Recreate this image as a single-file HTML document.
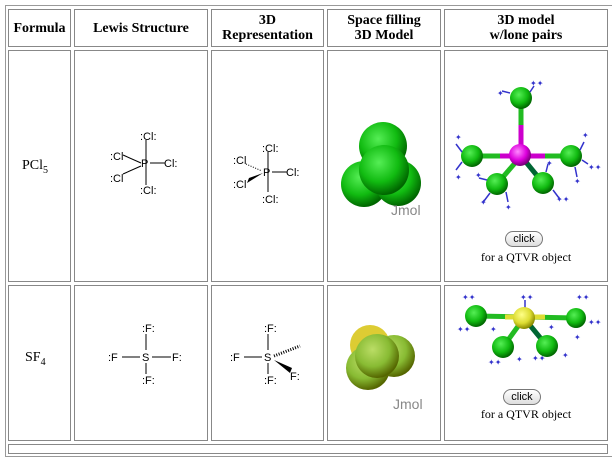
<!DOCTYPE html>
<html><head><style>
body{margin:0;width:612px;height:447px;background:#fff;position:relative;overflow:hidden;font-family:"Liberation Serif",serif;}
.c{position:absolute;border:1px solid #888;box-sizing:border-box;}
.o{position:absolute;left:5px;top:5px;width:606px;height:450px;border:1px solid #999;}
.h{font-weight:bold;font-size:14px;text-align:center;display:flex;align-items:center;justify-content:center;line-height:15px;}
.t{position:absolute;font-size:14px;}
svg{position:absolute;left:0;top:0;}
</style></head><body>
<div class="o"></div>
<div class="c h" style="left:8px;top:9px;width:63px;height:38px">Formula</div>
<div class="c h" style="left:74px;top:9px;width:134px;height:38px">Lewis Structure</div>
<div class="c h" style="left:211px;top:9px;width:113px;height:38px">3D<br>Representation</div>
<div class="c h" style="left:327px;top:9px;width:114px;height:38px">Space filling<br>3D Model</div>
<div class="c h" style="left:444px;top:9px;width:164px;height:38px">3D model<br>w/lone pairs</div>

<div class="c" style="left:8px;top:50px;width:63px;height:232px"></div>
<div class="c" style="left:74px;top:50px;width:134px;height:232px"></div>
<div class="c" style="left:211px;top:50px;width:113px;height:232px"></div>
<div class="c" style="left:327px;top:50px;width:114px;height:232px"></div>
<div class="c" style="left:444px;top:50px;width:164px;height:232px"></div>

<div class="c" style="left:8px;top:285px;width:63px;height:156px"></div>
<div class="c" style="left:74px;top:285px;width:134px;height:156px"></div>
<div class="c" style="left:211px;top:285px;width:113px;height:156px"></div>
<div class="c" style="left:327px;top:285px;width:114px;height:156px"></div>
<div class="c" style="left:444px;top:285px;width:164px;height:156px"></div>
<div class="c" style="left:8px;top:444px;width:600px;height:10px"></div>

<div class="t" style="left:22px;top:158px">PCl<sub style="font-size:10px">5</sub></div>
<div class="t" style="left:25px;top:350px">SF<sub style="font-size:10px">4</sub></div>

<svg width="612" height="447" font-family="Liberation Sans, sans-serif" font-size="11">
<defs>
<radialGradient id="g" cx="40%" cy="35%" r="65%"><stop offset="0" stop-color="#5e5"/><stop offset=".6" stop-color="#1b1"/><stop offset="1" stop-color="#060"/></radialGradient>
<radialGradient id="lg" cx="40%" cy="35%" r="65%"><stop offset="0" stop-color="#bd6"/><stop offset=".6" stop-color="#8b3"/><stop offset="1" stop-color="#560"/></radialGradient>
<radialGradient id="m" cx="40%" cy="35%" r="65%"><stop offset="0" stop-color="#f8f"/><stop offset=".6" stop-color="#d0d"/><stop offset="1" stop-color="#707"/></radialGradient>
<radialGradient id="y" cx="40%" cy="35%" r="65%"><stop offset="0" stop-color="#ff8"/><stop offset=".6" stop-color="#dd3"/><stop offset="1" stop-color="#880"/></radialGradient>
</defs>
<g stroke="#000" stroke-width="1">
<line x1="146" y1="140" x2="146" y2="185"/><line x1="150" y1="163" x2="165" y2="163"/>
<line x1="123" y1="155" x2="141" y2="163"/><line x1="123" y1="174" x2="141" y2="166"/>
<line x1="268" y1="152" x2="268" y2="192"/><line x1="272" y1="172" x2="287" y2="172"/>
<line x1="246" y1="164" x2="262" y2="171" stroke-dasharray="1,1.5"/>
</g>
<polygon points="247,183 249,178 263,173" fill="#000"/>
<g fill="#000">
<text x="140" y="140">:Cl:</text><text x="140" y="194">:Cl:</text><text x="164" y="167">Cl:</text>
<text x="110" y="160">:Cl</text><text x="110" y="182">:Cl</text><text x="141" y="167">P</text>
<text x="262" y="152">:Cl:</text><text x="262" y="203">:Cl:</text><text x="286" y="176">Cl:</text>
<text x="233" y="164">:Cl</text><text x="233" y="188">:Cl</text><text x="263" y="176">P</text>
<text x="142" y="332">:F:</text><text x="142" y="384">:F:</text><text x="108" y="361">:F</text><text x="172" y="361">F:</text><text x="142" y="361">S</text>
<text x="264" y="332">:F:</text><text x="264" y="384">:F:</text><text x="230" y="361">:F</text><text x="264" y="361">S</text><text x="290" y="380">F:</text>
</g>
<g stroke="#000"><line x1="146" y1="334" x2="146" y2="350"/><line x1="146" y1="363" x2="146" y2="374"/><line x1="122" y1="357" x2="140" y2="357"/><line x1="152" y1="357" x2="171" y2="357"/>
<line x1="268" y1="334" x2="268" y2="350"/><line x1="268" y1="363" x2="268" y2="374"/><line x1="244" y1="357" x2="262" y2="357"/>
<line x1="274" y1="356" x2="300" y2="346" stroke-dasharray="1,1.5" stroke-width="3"/></g>
<polygon points="274,360 292,368 290,373" fill="#000"/>
<circle cx="383" cy="146" r="24" fill="url(#g)"/><circle cx="364" cy="184" r="23" fill="url(#g)"/><circle cx="398" cy="183" r="23" fill="url(#g)"/><circle cx="384" cy="170" r="25" fill="url(#g)"/>
<text x="391" y="215" fill="#888" font-size="14">Jmol</text>
<circle cx="370" cy="345" r="20" fill="#dc3"/><circle cx="368" cy="368" r="22" fill="url(#lg)"/><circle cx="394" cy="356" r="21" fill="url(#lg)"/><circle cx="377" cy="356" r="22" fill="url(#lg)"/>
<text x="393" y="409" fill="#888" font-size="14">Jmol</text>
<g stroke-width="5"><line x1="521" y1="98" x2="521" y2="155" stroke="#2b2"/><line x1="521" y1="125" x2="521" y2="155" stroke="#c0c"/>
<line x1="472" y1="156" x2="571" y2="156" stroke="#2b2"/><line x1="500" y1="156" x2="545" y2="156" stroke="#c0c"/>
<line x1="497" y1="184" x2="521" y2="156" stroke="#2b2"/><line x1="543" y1="183" x2="521" y2="156" stroke="#063"/></g>
<circle cx="521" cy="98" r="11" fill="url(#g)"/><circle cx="472" cy="156" r="11" fill="url(#g)"/><circle cx="571" cy="156" r="11" fill="url(#g)"/>
<circle cx="520" cy="155" r="11" fill="url(#m)"/><circle cx="497" cy="184" r="11" fill="url(#g)"/><circle cx="543" cy="183" r="11" fill="url(#g)"/>
<g stroke="#33c" stroke-width="1.5" fill="none"><path d="M510 93 l-8 -2 M530 92 l4 -6 M462 152 l-6 -8 M462 162 l-6 8 M580 150 l4 -8 M582 160 l6 4 M575 167 l2 10 M490 193 l-6 8 M506 192 l2 10 M487 180 l-8 -2 M553 190 l6 8 M546 172 l2 -8"/></g>
<g fill="#33c" font-size="8"><text x="497" y="96">✦</text><text x="530" y="86">✦✦</text><text x="455" y="140">✦</text><text x="455" y="180">✦</text><text x="582" y="138">✦</text><text x="588" y="170">✦✦</text><text x="574" y="184">✦</text><text x="480" y="205">✦</text><text x="505" y="210">✦</text><text x="475" y="178">✦</text><text x="556" y="202">✦✦</text><text x="546" y="166">✦</text></g>
<g stroke-width="5"><line x1="476" y1="316" x2="576" y2="318" stroke="#2b2"/><line x1="505" y1="317" x2="545" y2="317" stroke="#dd3"/>
<line x1="503" y1="347" x2="524" y2="318" stroke="#2b2"/><line x1="547" y1="346" x2="524" y2="318" stroke="#063"/><line x1="525" y1="300" x2="525" y2="318" stroke="#33c" stroke-width="1.5"/></g>
<circle cx="476" cy="316" r="11" fill="url(#g)"/><circle cx="576" cy="318" r="10" fill="url(#g)"/><circle cx="524" cy="318" r="11" fill="url(#y)"/>
<circle cx="503" cy="347" r="11" fill="url(#g)"/><circle cx="547" cy="346" r="11" fill="url(#g)"/>
<g fill="#33c" font-size="8"><text x="520" y="300">✦✦</text><text x="462" y="300">✦✦</text><text x="457" y="332">✦✦</text><text x="576" y="300">✦✦</text><text x="588" y="325">✦✦</text><text x="574" y="340">✦</text><text x="488" y="365">✦✦</text><text x="516" y="362">✦</text><text x="532" y="361">✦✦</text><text x="562" y="358">✦</text><text x="490" y="332">✦</text><text x="548" y="330">✦</text></g>
</svg>
<div style="position:absolute;left:505px;top:231px;width:36px;height:14px;border:1px solid #777;border-radius:8px;background:linear-gradient(#fff,#ddd);font:11px 'Liberation Sans',sans-serif;text-align:center;line-height:14px">click</div>
<div style="position:absolute;left:444px;top:250px;width:164px;text-align:center;font-size:12px">for a QTVR object</div>
<div style="position:absolute;left:503px;top:389px;width:36px;height:14px;border:1px solid #777;border-radius:8px;background:linear-gradient(#fff,#ddd);font:11px 'Liberation Sans',sans-serif;text-align:center;line-height:14px">click</div>
<div style="position:absolute;left:444px;top:407px;width:164px;text-align:center;font-size:12px">for a QTVR object</div>
</body></html>
